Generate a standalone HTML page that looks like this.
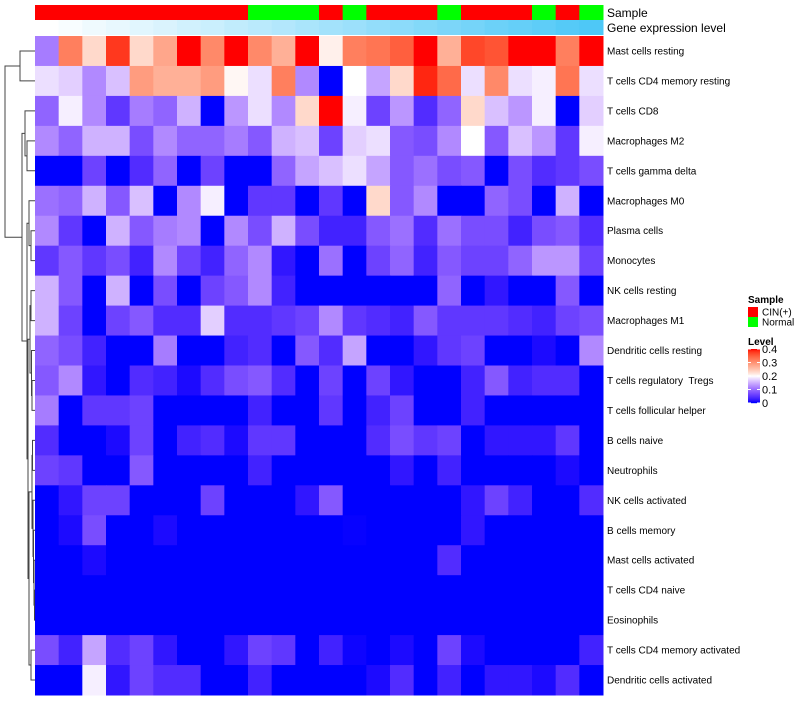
<!DOCTYPE html>
<html><head><meta charset="utf-8"><style>
body{margin:0;background:#fff;font-family:"Liberation Sans",sans-serif}
svg text{font-family:"Liberation Sans",sans-serif;white-space:pre}
</style></head><body>
<svg id="chart" width="800" height="700" xmlns="http://www.w3.org/2000/svg"></svg>
<script>
const rowNames=["Mast cells resting","T cells CD4 memory resting","T cells CD8","Macrophages M2","T cells gamma delta","Macrophages M0","Plasma cells","Monocytes","NK cells resting","Macrophages M1","Dendritic cells resting","T cells regulatory  Tregs","T cells follicular helper","B cells naive","Neutrophils","NK cells activated","B cells memory","Mast cells activated","T cells CD4 naive","Eosinophils","T cells CD4 memory activated","Dendritic cells activated"];
const sampleGroups=["CIN(+)","CIN(+)","CIN(+)","CIN(+)","CIN(+)","CIN(+)","CIN(+)","CIN(+)","CIN(+)","Normal","Normal","Normal","CIN(+)","Normal","CIN(+)","CIN(+)","CIN(+)","Normal","CIN(+)","CIN(+)","CIN(+)","Normal","CIN(+)","Normal"];
const geneLevel=[0,0.04,0.09,0.13,0.17,0.21,0.26,0.3,0.35,0.39,0.43,0.48,0.52,0.56,0.61,0.65,0.7,0.74,0.78,0.83,0.87,0.91,0.96,1];
const values=[
[0.11,0.32,0.23,0.38,0.23,0.28,0.4,0.31,0.4,0.31,0.27,0.4,0.21,0.32,0.33,0.35,0.4,0.27,0.37,0.36,0.4,0.4,0.32,0.4],
[0.18,0.17,0.12,0.16,0.29,0.27,0.27,0.29,0.205,0.18,0.32,0.12,0,0.2,0.14,0.23,0.39,0.34,0.18,0.31,0.18,0.19,0.33,0.18],
[0.09,0.19,0.12,0.05,0.11,0.09,0.15,0,0.13,0.18,0.12,0.23,0.4,0.19,0.06,0.13,0.04,0.09,0.23,0.16,0.13,0.19,0,0.17],
[0.12,0.09,0.15,0.15,0.07,0.12,0.09,0.09,0.11,0.08,0.15,0.16,0.06,0.17,0.18,0.08,0.07,0.12,0.2,0.08,0.16,0.13,0.05,0.19],
[0,0,0.06,0,0.04,0.09,0,0.06,0,0,0.09,0.14,0.16,0.18,0.14,0.08,0.1,0.07,0.08,0,0.07,0.04,0.05,0.07],
[0.1,0.09,0.15,0.08,0.16,0,0.12,0.19,0,0.05,0.05,0,0.05,0,0.23,0.08,0.12,0,0,0.09,0.07,0,0.15,0],
[0.12,0.05,0,0.15,0.08,0.11,0.12,0,0.12,0.07,0.15,0.07,0.03,0.03,0.08,0.1,0.04,0.1,0.07,0.07,0.03,0.07,0.08,0.04],
[0.05,0.08,0.05,0.07,0.03,0.12,0.06,0.03,0.09,0.12,0.02,0,0.1,0,0.06,0.09,0.03,0.08,0.06,0.06,0.09,0.13,0.13,0.06],
[0.15,0.08,0,0.15,0,0.07,0,0.06,0.08,0.12,0.03,0,0,0,0,0,0,0.09,0,0.02,0,0,0.08,0],
[0.15,0.06,0,0.06,0.08,0.04,0.04,0.17,0.04,0.04,0.05,0.06,0.12,0.05,0.04,0.03,0.08,0.05,0.05,0.05,0.04,0.03,0.06,0.07],
[0.09,0.07,0.03,0,0,0.11,0,0,0.03,0.04,0,0.08,0.04,0.14,0,0,0.02,0.05,0.06,0,0,0.01,0,0.12],
[0.08,0.12,0.02,0,0.04,0.03,0.01,0.04,0.07,0.08,0.04,0,0.06,0,0.06,0.02,0,0,0.03,0.08,0.03,0.04,0.04,0],
[0.11,0,0.05,0.05,0.06,0,0,0,0,0.03,0,0,0.05,0,0.03,0.06,0,0,0.03,0,0,0,0,0],
[0.04,0,0,0.01,0.06,0,0.03,0.04,0.01,0.05,0.05,0,0,0,0.04,0.07,0.05,0.06,0,0.02,0.02,0.02,0.05,0],
[0.06,0.05,0,0,0.08,0,0,0,0,0.03,0,0,0,0,0,0.02,0,0.03,0,0,0,0,0.01,0],
[0,0.02,0.06,0.06,0,0,0,0.06,0,0,0,0.02,0.08,0,0,0,0,0,0.02,0.06,0.03,0,0,0.04],
[0,0.01,0.07,0,0,0.01,0,0,0,0,0,0,0,0.003,0,0,0,0,0.02,0,0,0,0,0],
[0,0,0.01,0,0,0,0,0,0,0,0,0,0,0,0,0,0,0.04,0,0,0,0,0,0],
[0,0,0,0,0,0,0,0,0,0,0,0,0,0,0,0,0,0,0,0,0,0,0,0],
[0,0,0,0,0,0,0,0,0,0,0,0,0,0,0,0,0,0,0,0,0,0,0,0],
[0.07,0.03,0.14,0.04,0.06,0.02,0,0,0.02,0.06,0.05,0,0.03,0.005,0,0.01,0,0.06,0.01,0,0,0,0,0.03],
[0,0,0.19,0.02,0.06,0.04,0.04,0,0,0.03,0,0,0,0,0.01,0.04,0,0.03,0,0.02,0.02,0.01,0.04,0]
];
const legendTicks=[0.4,0.3,0.2,0.1,0];

const svg=document.getElementById('chart');
const NS="http://www.w3.org/2000/svg";
const X0=35,X1=603,Y0=36,Y1=695;
const nC=24,nR=rowNames.length;
const cw=(X1-X0)/nC,rh=(Y1-Y0)/nR;
const colX=i=>X0+i*cw, rowY=j=>Y0+j*rh;
function mk(tag,attrs){const e=document.createElementNS(NS,tag);for(const k in attrs)e.setAttribute(k,attrs[k]);svg.appendChild(e);return e;}
function s2l(c){c/=255;return c<=0.04045?c/12.92:Math.pow((c+0.055)/1.055,2.4);}
function l2s(c){c=c<=0.0031308?12.92*c:1.055*Math.pow(c,1/2.4)-0.055;return Math.max(0,Math.min(255,Math.round(c*255)));}
function toLab(r,g,b){r=s2l(r);g=s2l(g);b=s2l(b);let x=(r*0.4124+g*0.3576+b*0.1805)/0.95047,y=r*0.2126+g*0.7152+b*0.0722,z=(r*0.0193+g*0.1192+b*0.9505)/1.08883;const f=t=>t>0.008856?Math.cbrt(t):7.787*t+16/116;x=f(x);y=f(y);z=f(z);return[116*y-16,500*(x-y),200*(y-z)];}
function fromLab(L,a,b){let y=(L+16)/116,x=a/500+y,z=y-b/200;const fi=t=>t*t*t>0.008856?t*t*t:(t-16/116)/7.787;x=fi(x)*0.95047;y=fi(y);z=fi(z)*1.08883;const r=x*3.2406+y*-1.5372+z*-0.4986,g=x*-0.9689+y*1.8758+z*0.0415,bb=x*0.0557+y*-0.2040+z*1.0570;return `rgb(${l2s(r)},${l2s(g)},${l2s(bb)})`;}
const cBlue=toLab(0,0,255),cWhite=toLab(255,255,255),cRed=toLab(255,0,0);
function col(v){v=Math.max(0,Math.min(0.4,v));let a,b,t;if(v<=0.2){a=cBlue;b=cWhite;t=Math.pow(v/0.2,1.4);}else{a=cWhite;b=cRed;t=Math.pow((v-0.2)/0.2,0.85);}return fromLab(a[0]+(b[0]-a[0])*t,a[1]+(b[1]-a[1])*t,a[2]+(b[2]-a[2])*t);}
function geneCol(v){const r=Math.round(255+(78-255)*v),g=Math.round(255+(200-255)*v),b=Math.round(255+(247-255)*v);return `rgb(${r},${g},${b})`;}

sampleGroups.forEach((s,i)=>{const e=mk('rect',{x:colX(i),y:5,width:cw+0.5,height:15,fill:s==="Normal"?"#00ff00":"#ff0000"});

});
geneLevel.forEach((g,i)=>{const e=mk('rect',{x:colX(i),y:20,width:cw+0.5,height:15,fill:geneCol(g)});

});
let t=mk('text',{x:607,y:17,'font-size':12});t.textContent="Sample";


t=mk('text',{x:607,y:32,'font-size':12});t.textContent="Gene expression level";



values.forEach((row,j)=>row.forEach((v,i)=>{const e=mk('rect',{x:colX(i),y:rowY(j),width:cw+0.5,height:rh+0.5,fill:col(v)});

}));
rowNames.forEach((n,j)=>{const e=mk('text',{x:607,y:rowY(j)+rh/2+3.5,'font-size':10,'xml:space':'preserve'});e.textContent=n;

});

const tree=[[0,1,20],[[2,[3,4,27],25],[[5,[6,7,31],29],[[[8,9,31],[10,[11,12,32],31.5],30],[[[13,14,32.5],[15,[16,[17,[18,19,34.5],34],33.5],33],32],[20,21,31],29],28],27],22],5];
let d="";
function draw(n){if(typeof n==="number")return{y:rowY(n)+rh/2,x:35};const a=draw(n[0]),b=draw(n[1]),h=n[2];d+=`M${a.x},${a.y}H${h}V${b.y}H${b.x}`;return{y:(a.y+b.y)/2,x:h};}
draw(tree);
const dp=mk('path',{d:d,fill:'none',stroke:'#444','stroke-width':1});



t=mk('text',{x:748,y:303,'font-size':10,'font-weight':'bold'});t.textContent="Sample";


[["CIN(+)","#ff0000"],["Normal","#00ff00"]].forEach((p,k)=>{const r=mk('rect',{x:748,y:307+k*10,width:10,height:10,fill:p[1]});


const tx=mk('text',{x:762,y:315.5+k*10,'font-size':10});tx.textContent=p[0];

});
t=mk('text',{x:748,y:345,'font-size':10,'font-weight':'bold'});t.textContent="Level";


const LB0=349,LB1=403;
for(let k=0;k<54;k++){const v=0.4*(1-k/53);const r=mk('rect',{x:748,y:LB0+k,width:12,height:1.2,fill:col(v)});

}
legendTicks.forEach(v=>{const y=LB1-(v/0.4)*(LB1-LB0);
const l=mk('line',{x1:748,x2:751,y1:y,y2:y,stroke:'#fff','stroke-width':1});


const l2=mk('line',{x1:757,x2:760,y1:y,y2:y,stroke:'#fff','stroke-width':1});


const tx=mk('text',{x:762,y:y+4,'font-size':11});tx.textContent=String(v);

});
</script>
</body></html>
